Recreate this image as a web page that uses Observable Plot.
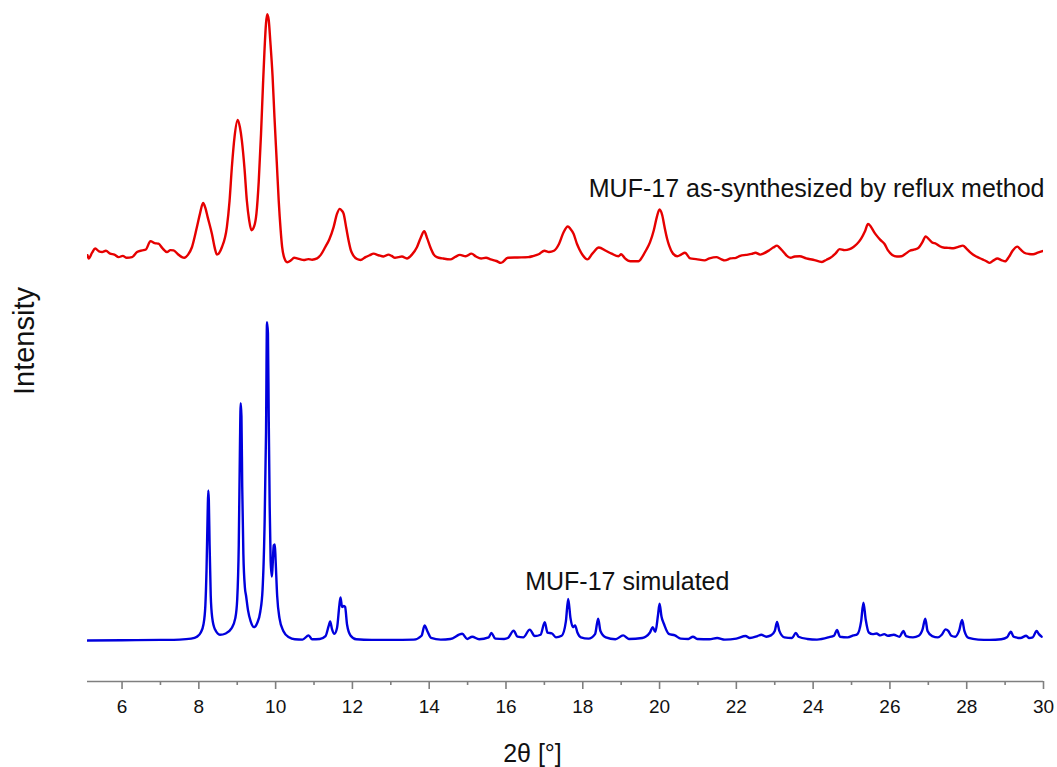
<!DOCTYPE html>
<html>
<head>
<meta charset="utf-8">
<script src="https://cdn.jsdelivr.net/npm/d3@7"></script>
<script src="https://cdn.jsdelivr.net/npm/@observablehq/plot@0.6"></script>
<style>
  html, body { margin: 0; padding: 0; background: #fff; }
  #chart svg { display: block; }
</style>
</head>
<body>
<div id="chart"></div>
<script>
// ---- Data (2θ in degrees, intensity in arbitrary units) ----
const xTicksMajor = [6, 8, 10, 12, 14, 16, 18, 20, 22, 24, 26, 28, 30];
const xTicksMinor = [7, 9, 11, 13, 15, 17, 19, 21, 23, 25, 27, 29];
const xDomain = [5.1, 30];
const yDomain = [-128, 2000];
const redOffset = 1194; // vertical stacking offset of the experimental pattern

const seriesNames = ["MUF-17 as-synthesized by reflux method", "MUF-17 simulated"];
const xLabel = "2θ [°]";
const yLabel = "Intensity";

// simulated pattern [2θ, intensity]
const simulated = [
[5.10,0],[6.0,1],[7.0,2],[7.5,3],[7.8,6],[7.95,12],[8.05,25],[8.12,50],[8.17,110],[8.20,220],[8.23,400],[8.245,469],[8.26,440],[8.28,300],[8.31,140],[8.35,70],[8.42,35],[8.55,18],[8.70,22],[8.85,38],[8.95,70],[9.00,130],[9.04,300],[9.07,600],[9.09,742],[9.11,700],[9.13,480],[9.16,270],[9.20,165],[9.23,140],[9.28,95],[9.35,60],[9.44,42],[9.52,55],[9.60,90],[9.66,160],[9.71,350],[9.75,650],[9.775,995],[9.80,960],[9.82,700],[9.845,420],[9.87,250],[9.90,200],[9.92,230],[9.95,297],[9.98,300],[10.00,250],[10.04,140],[10.10,70],[10.20,30],[10.35,10],[10.50,4],[10.70,3],[10.86,16],[10.95,4],[11.15,5],[11.30,14],[11.38,45],[11.42,60],[11.47,35],[11.53,21],[11.60,40],[11.66,110],[11.69,135],[11.73,105],[11.78,108],[11.81,105],[11.86,50],[11.95,16],[12.10,4],[12.5,2],[13.0,2],[13.6,3],[13.80,15],[13.88,47],[13.95,30],[14.05,8],[14.3,3],[14.55,5],[14.86,21],[14.99,5],[15.12,12],[15.30,4],[15.55,10],[15.62,24],[15.72,6],[15.95,5],[16.05,8],[16.20,31],[16.30,12],[16.45,10],[16.62,34],[16.75,14],[16.90,18],[17.01,57],[17.08,25],[17.20,22],[17.30,10],[17.45,15],[17.56,60],[17.62,130],[17.68,70],[17.74,42],[17.80,47],[17.86,25],[17.95,10],[18.15,6],[18.32,20],[18.40,68],[18.46,30],[18.60,10],[18.85,4],[19.05,16],[19.20,5],[19.55,8],[19.75,25],[19.82,42],[19.89,27],[19.96,80],[20.00,115],[20.05,75],[20.12,50],[20.24,21],[20.40,16],[20.55,6],[20.75,5],[20.87,12],[20.98,5],[21.3,4],[21.5,8],[21.7,3],[22.0,6],[22.24,14],[22.35,8],[22.55,14],[22.65,18],[22.78,12],[22.90,16],[23.0,30],[23.06,58],[23.12,30],[23.25,10],[23.45,8],[23.55,24],[23.62,12],[23.85,5],[24.1,3],[24.40,10],[24.55,16],[24.62,33],[24.70,12],[24.90,10],[25.05,16],[25.15,20],[25.25,60],[25.31,118],[25.37,65],[25.45,25],[25.55,20],[25.65,22],[25.75,16],[25.85,20],[25.95,15],[26.10,18],[26.25,12],[26.35,30],[26.42,14],[26.60,10],[26.75,15],[26.85,35],[26.92,68],[26.98,30],[27.10,14],[27.25,10],[27.35,18],[27.45,35],[27.52,30],[27.60,15],[27.70,12],[27.80,30],[27.88,64],[27.94,30],[28.05,8],[28.3,3],[28.6,2],[28.9,4],[29.05,10],[29.15,28],[29.22,12],[29.40,8],[29.55,15],[29.62,8],[29.72,10],[29.82,30],[29.88,20],[29.95,12]
];

// as-synthesized (reflux) pattern [2θ, intensity above its own baseline]
const reflux = [
[5.10,10],[5.13,0],[5.22,18],[5.30,31],[5.40,22],[5.48,20],[5.58,24],[5.69,15],[5.80,12],[5.91,4],[6.02,8],[6.12,2],[6.26,4],[6.39,20],[6.52,25],[6.62,28],[6.74,54],[6.85,48],[6.95,46],[7.05,32],[7.17,20],[7.26,26],[7.34,25],[7.45,14],[7.56,4],[7.62,2],[7.72,12],[7.82,35],[7.95,98],[8.03,140],[8.11,173],[8.17,158],[8.23,129],[8.34,77],[8.42,30],[8.47,12],[8.60,35],[8.73,98],[8.80,180],[8.86,285],[8.93,380],[9.01,433],[9.07,410],[9.12,369],[9.19,280],[9.25,181],[9.31,120],[9.37,88],[9.44,100],[9.50,140],[9.56,240],[9.62,390],[9.67,540],[9.71,650],[9.75,735],[9.78,763],[9.82,745],[9.86,681],[9.92,570],[9.97,441],[10.03,300],[10.08,181],[10.13,90],[10.17,35],[10.23,0],[10.30,-12],[10.40,-6],[10.48,2],[10.56,0],[10.65,-3],[10.73,-5],[10.85,-2],[10.95,-4],[11.08,0],[11.18,12],[11.29,35],[11.40,60],[11.51,98],[11.60,140],[11.67,155],[11.72,150],[11.77,140],[11.84,95],[11.90,56],[11.96,25],[12.03,8],[12.12,-2],[12.21,-5],[12.34,4],[12.45,10],[12.55,15],[12.68,10],[12.81,6],[12.94,12],[13.02,8],[13.11,2],[13.20,4],[13.29,6],[13.42,0],[13.55,12],[13.68,35],[13.78,65],[13.87,85],[13.95,62],[14.03,35],[14.12,12],[14.20,4],[14.35,0],[14.55,-3],[14.68,5],[14.80,11],[14.95,7],[15.10,15],[15.22,6],[15.35,0],[15.48,2],[15.60,-3],[15.75,-8],[15.87,-14],[16.05,2],[16.30,3],[16.58,4],[16.72,8],[16.85,13],[17.00,24],[17.12,20],[17.25,24],[17.38,45],[17.50,82],[17.61,100],[17.68,92],[17.76,77],[17.85,45],[17.91,29],[18.00,10],[18.12,-3],[18.25,15],[18.42,34],[18.60,24],[18.75,15],[18.93,7],[19.00,13],[19.10,0],[19.24,-9],[19.45,-9],[19.55,5],[19.64,24],[19.75,50],[19.85,88],[19.93,130],[20.00,153],[20.07,135],[20.13,98],[20.20,60],[20.25,40],[20.35,15],[20.46,7],[20.56,12],[20.66,18],[20.80,0],[20.95,-2],[21.17,-6],[21.30,0],[21.48,4],[21.60,-2],[21.70,-6],[21.85,0],[21.99,2],[22.10,8],[22.25,11],[22.40,14],[22.50,18],[22.62,12],[22.70,15],[22.85,25],[22.96,34],[23.06,40],[23.13,33],[23.20,24],[23.30,10],[23.41,2],[23.52,6],[23.65,7],[23.82,0],[24.00,-4],[24.23,-11],[24.35,-4],[24.45,2],[24.58,15],[24.69,29],[24.82,26],[24.95,29],[25.05,36],[25.14,45],[25.25,62],[25.35,85],[25.43,108],[25.50,100],[25.58,84],[25.65,72],[25.75,58],[25.86,45],[25.95,25],[26.06,11],[26.18,6],[26.30,7],[26.40,14],[26.52,24],[26.65,28],[26.75,34],[26.85,52],[26.93,69],[27.00,62],[27.10,50],[27.20,46],[27.30,38],[27.39,34],[27.52,33],[27.65,32],[27.78,36],[27.90,40],[28.00,30],[28.10,18],[28.25,6],[28.41,-3],[28.50,-8],[28.60,-14],[28.70,-6],[28.80,0],[28.90,-5],[29.00,-9],[29.10,5],[29.20,25],[29.32,37],[29.40,28],[29.50,18],[29.62,14],[29.73,13],[29.85,18],[29.95,22],[30.00,24]
];

// ---- Chart ----
const FONT = "'Liberation Sans', Arial, Helvetica, sans-serif";
const AXIS_GRAY = "#7f7f7f";

const chart = Plot.plot({
  width: 1057,
  height: 767,
  marginLeft: 87,
  marginRight: 14,
  marginTop: 0,
  marginBottom: 86,
  style: {fontFamily: FONT, background: "#fff", color: "#000", overflow: "visible"},
  x: {domain: xDomain, label: null},
  y: {domain: yDomain, axis: null},
  marks: [
    Plot.ruleY([yDomain[0]], {stroke: AXIS_GRAY, strokeWidth: 1.6}),
    Plot.axisX({ticks: xTicksMinor, tickSize: 4, tickFormat: () => "", stroke: AXIS_GRAY, strokeWidth: 1.6, label: null}),
    Plot.axisX({ticks: xTicksMajor, tickSize: 8, tickPadding: 10, tickFormat: d => String(d), stroke: AXIS_GRAY, strokeWidth: 1.6, fontSize: 19, fill: "#111", label: null}),
    Plot.line(simulated, {x: d => d[0], y: d => d[1], stroke: "#0000dd", strokeWidth: 2.4, curve: "monotone-x", clip: true}),
    Plot.line(reflux, {x: d => d[0], y: d => d[1] + redOffset, stroke: "#e60000", strokeWidth: 2.4, curve: "monotone-x", clip: true}),
    Plot.text([seriesNames[0]], {x: xDomain[1], y: 1412, text: d => d, textAnchor: "end", dx: 1, fontSize: 25, fill: "#111"}),
    Plot.text([seriesNames[1]], {x: 16.50, y: 184, text: d => d, textAnchor: "start", fontSize: 25, fill: "#111"}),
    Plot.text([xLabel], {frameAnchor: "bottom", dx: -33, dy: 72, lineAnchor: "middle", fontSize: 25, fill: "#111"}),
    Plot.text([yLabel], {frameAnchor: "left", rotate: -90, dx: -63, textAnchor: "middle", lineAnchor: "middle", fontSize: 29, fill: "#111"})
  ]
});
document.getElementById("chart").appendChild(chart);
</script>
</body>
</html>
